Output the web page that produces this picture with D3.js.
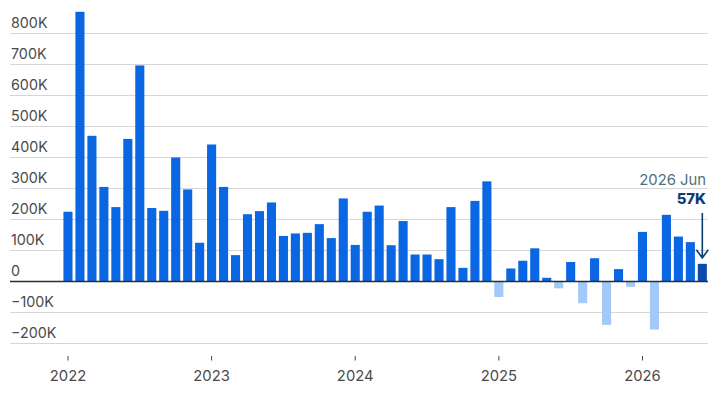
<!DOCTYPE html>
<html><head><meta charset="utf-8">
<script src="https://cdn.jsdelivr.net/npm/d3@7"></script>
<style>html,body{margin:0;background:#fff}svg{display:block}text{font-family:Inter,sans-serif}</style>
</head><body><svg id="c" width="720" height="405"></svg>
<script>
const months = d3.range(54).map(i => new Date(Date.UTC(2022, i, 1)));
const values = [225,870,470,305,240,460,697,237,228,400,297,125,
442,305,85,217,227,255,147,155,157,185,140,268,
118,225,245,117,195,87,87,72,240,44,260,323,
-50,42,67,107,12,-22,63,-70,75,-140,40,-17,
160,-155,215,145,127,57];
const gridTicks = [800,700,600,500,400,300,200,100,-100,-200];
const yLabels = [800,700,600,500,400,300,200,100,0,-100,-200];
const yearTicks = [2022,2023,2024,2025,2026];
const annotationDate = "2026 Jun";
const annotationValue = "57K";

const svg = d3.select("#c");
const y = d3.scaleLinear().domain([0,800]).range([281.5,33.5]);
const x = d3.scaleBand().domain(months.map(d=>+d)).range([62,708.3]).paddingInner(0.24).paddingOuter(0.12);
const cx = d => x(+d)+x.bandwidth()/2;
const fmt = v => v===0 ? "0" : (v<0?"\u2212":"")+Math.abs(v)+"K";

svg.append("g").selectAll("line").data(gridTicks).join("line")
 .attr("x1",10).attr("x2",708).attr("y1",d=>y(d)).attr("y2",d=>y(d))
 .attr("stroke","#d4d6d8").attr("stroke-width",1);

svg.append("g").selectAll("rect").data(values).join("rect")
 .attr("x",(d,i)=>x(+months[i])).attr("width",x.bandwidth())
 .attr("y",d=>d>=0?y(d):y(0)).attr("height",d=>Math.abs(y(d)-y(0)))
 .attr("fill",(d,i)=> i===values.length-1 ? "#0b4cab" : d<0 ? "#a3c9f9" : "#0a66e2");

svg.append("line").attr("x1",10).attr("x2",708).attr("y1",y(0)).attr("y2",y(0)).attr("stroke","#23303d").attr("stroke-width",1.3);

svg.append("g").selectAll("text").data(yLabels).join("text")
 .attr("x",11).attr("y",d=>y(d)-5.5).attr("font-size",14.3).attr("fill","#4a4a4a").text(fmt);

const xAxis = svg.append("g").attr("transform","translate(0,356)")
 .call(d3.axisBottom(x).tickValues(yearTicks.map(v=>+new Date(Date.UTC(v,0,1)))).tickSize(4.5).tickPadding(9.5)
 .tickFormat(d=>new Date(d).getUTCFullYear()));
xAxis.select(".domain").remove();
xAxis.selectAll("line").attr("stroke","#444");
xAxis.selectAll("text").attr("font-size",14.8).attr("fill","#4a4a4a").attr("font-family","Inter,sans-serif");

const last = months[months.length-1], ax = cx(last);
svg.append("text").attr("x",706).attr("y",185).attr("text-anchor","end").attr("font-size",14.8).attr("fill","#4f6f80").text(annotationDate);
svg.append("text").attr("x",706).attr("y",204).attr("text-anchor","end").attr("font-size",14.8).attr("font-weight",800).attr("fill","#0d3d73").text(annotationValue);
const arrowTop=213, tip=y(57)-1+ -5;
svg.append("path").attr("fill","none").attr("stroke","#0d3d73").attr("stroke-width",1.6)
 .attr("d",`M${ax},${arrowTop}V${tip}M${ax-6},${tip-8}L${ax},${tip}L${ax+6},${tip-8}`);
</script></body></html>
